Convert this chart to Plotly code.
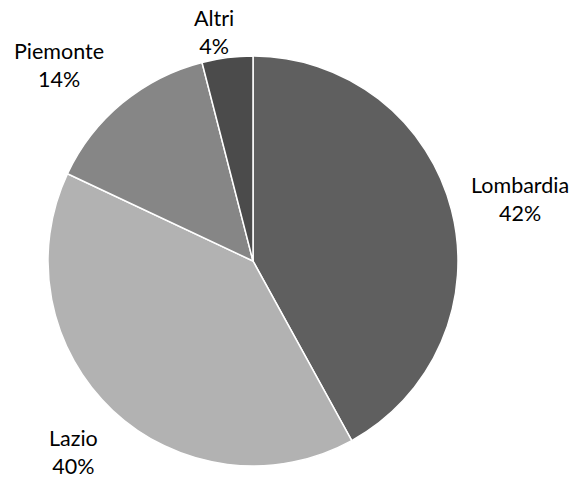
import math
import plotly.graph_objects as go

# Regional shares (percent)
regions = ["Lombardia", "Lazio", "Piemonte", "Altri"]
shares = [42, 40, 14, 4]

slice_colors = ["#5f5f5f", "#b2b2b2", "#868686", "#4b4b4b"]

W, H = 576, 478
# pie placement in pixels
cx, cy, r = 253, 261, 205
# label distance from centre (as a multiple of radius) and small nudges (px)
label_dist = [1.33, 1.28, 1.35, 1.13]
label_nudge = [(3, 6), (0, 0), (-18, 17), (-10, 1)]

fig = go.Figure(
    go.Pie(
        labels=regions,
        values=shares,
        sort=False,
        direction="clockwise",
        rotation=0,
        textinfo="none",
        hoverinfo="label+percent",
        marker=dict(colors=slice_colors, line=dict(color="white", width=1.5)),
        domain=dict(x=[(cx - r) / W, (cx + r) / W], y=[(H - cy - r) / H, (H - cy + r) / H]),
        showlegend=False,
    )
)

# data labels placed outside each slice along its middle angle
total = sum(shares)
cum = 0
annotations = []
for name, v, k, (nx, ny) in zip(regions, shares, label_dist, label_nudge):
    mid = (cum + v / 2) / total * 2 * math.pi
    cum += v
    px = cx + k * r * math.sin(mid) + nx
    py = cy - k * r * math.cos(mid) + ny
    annotations.append(
        dict(
            x=px / W,
            y=1 - py / H,
            xref="paper",
            yref="paper",
            text=f"{name}<br>{round(v / total * 100)}%",
            showarrow=False,
            xanchor="center",
            yanchor="middle",
            align="center",
            font=dict(family="Lato, 'Open Sans', sans-serif", size=21.5, color="#000000"),
        )
    )

fig.update_layout(
    width=W,
    height=H,
    margin=dict(l=0, r=0, t=0, b=0),
    paper_bgcolor="white",
    plot_bgcolor="white",
    annotations=annotations,
)

fig.write_html("out.html")
